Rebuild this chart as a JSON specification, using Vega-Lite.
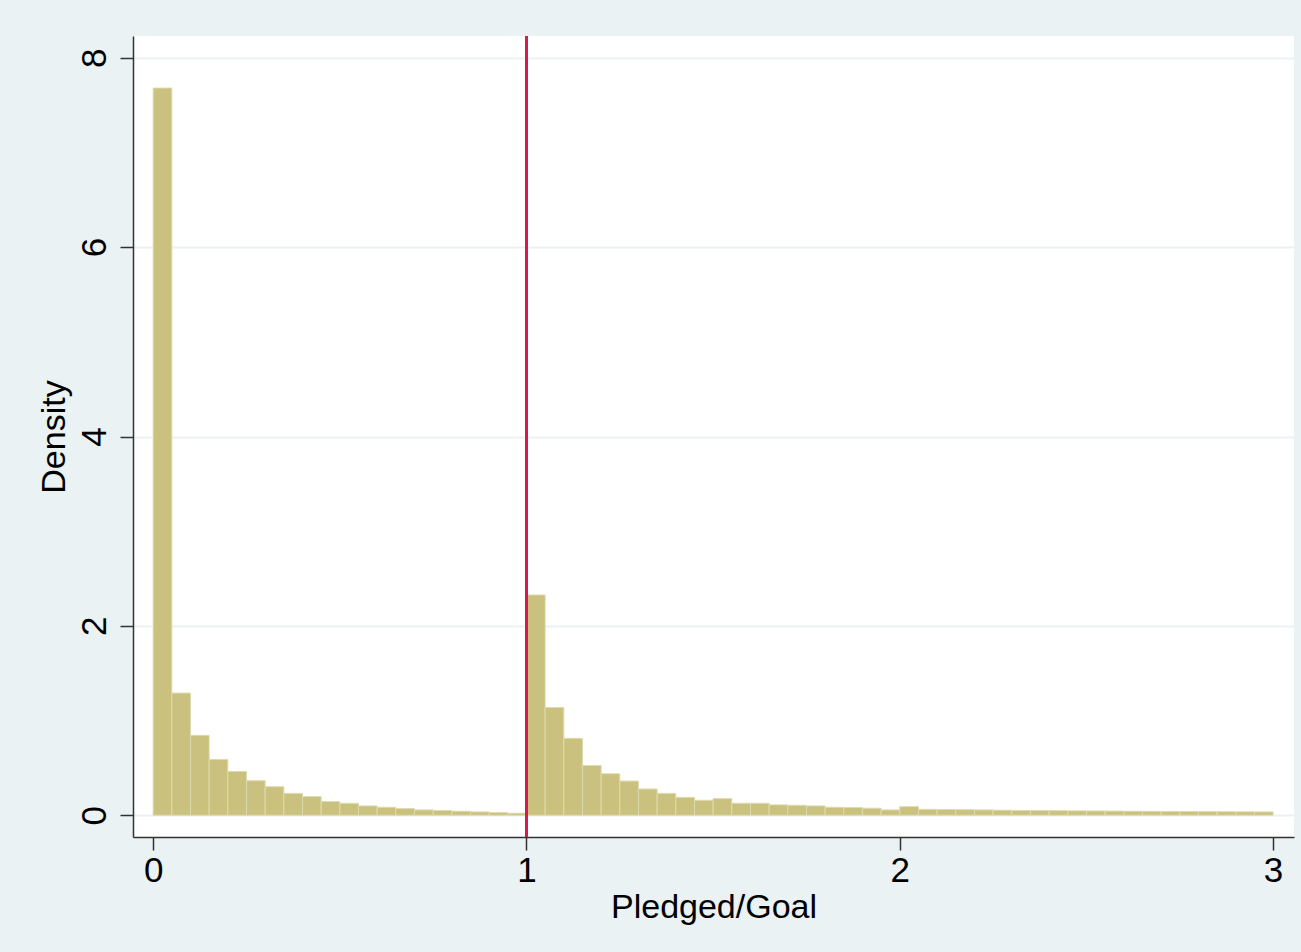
{
  "$schema": "https://vega.github.io/schema/vega-lite/v6.json",
  "autosize": {"type": "none"},
  "width": 1161,
  "height": 801,
  "padding": {"left": 133, "top": 36, "right": 7, "bottom": 115},
  "background": "#EAF2F3",
  "config": {
    "view": {"fill": "white", "stroke": null},
    "font": "Liberation Sans",
    "axis": {
      "labelFont": "Liberation Sans",
      "titleFont": "Liberation Sans",
      "labelColor": "black",
      "titleColor": "black",
      "titleFontWeight": "normal",
      "domainColor": "#333333",
      "domainWidth": 1.5,
      "tickColor": "#333333",
      "tickWidth": 1.5,
      "tickSize": 13
    }
  },
  "data": {
    "values": [
      {"x0": 0.00, "x1": 0.05, "density": 7.68},
      {"x0": 0.05, "x1": 0.10, "density": 1.29},
      {"x0": 0.10, "x1": 0.15, "density": 0.844},
      {"x0": 0.15, "x1": 0.20, "density": 0.589},
      {"x0": 0.20, "x1": 0.25, "density": 0.462},
      {"x0": 0.25, "x1": 0.30, "density": 0.364},
      {"x0": 0.30, "x1": 0.35, "density": 0.301},
      {"x0": 0.35, "x1": 0.40, "density": 0.231},
      {"x0": 0.40, "x1": 0.45, "density": 0.196},
      {"x0": 0.45, "x1": 0.50, "density": 0.144},
      {"x0": 0.50, "x1": 0.55, "density": 0.126},
      {"x0": 0.55, "x1": 0.60, "density": 0.098},
      {"x0": 0.60, "x1": 0.65, "density": 0.084},
      {"x0": 0.65, "x1": 0.70, "density": 0.070},
      {"x0": 0.70, "x1": 0.75, "density": 0.056},
      {"x0": 0.75, "x1": 0.80, "density": 0.049},
      {"x0": 0.80, "x1": 0.85, "density": 0.042},
      {"x0": 0.85, "x1": 0.90, "density": 0.035},
      {"x0": 0.90, "x1": 0.95, "density": 0.028},
      {"x0": 0.95, "x1": 1.00, "density": 0.021},
      {"x0": 1.00, "x1": 1.05, "density": 2.326},
      {"x0": 1.05, "x1": 1.10, "density": 1.138},
      {"x0": 1.10, "x1": 1.15, "density": 0.812},
      {"x0": 1.15, "x1": 1.20, "density": 0.525},
      {"x0": 1.20, "x1": 1.25, "density": 0.438},
      {"x0": 1.25, "x1": 1.30, "density": 0.361},
      {"x0": 1.30, "x1": 1.35, "density": 0.277},
      {"x0": 1.35, "x1": 1.40, "density": 0.231},
      {"x0": 1.40, "x1": 1.45, "density": 0.189},
      {"x0": 1.45, "x1": 1.50, "density": 0.158},
      {"x0": 1.50, "x1": 1.55, "density": 0.175},
      {"x0": 1.55, "x1": 1.60, "density": 0.126},
      {"x0": 1.60, "x1": 1.65, "density": 0.126},
      {"x0": 1.65, "x1": 1.70, "density": 0.109},
      {"x0": 1.70, "x1": 1.75, "density": 0.105},
      {"x0": 1.75, "x1": 1.80, "density": 0.098},
      {"x0": 1.80, "x1": 1.85, "density": 0.084},
      {"x0": 1.85, "x1": 1.90, "density": 0.081},
      {"x0": 1.90, "x1": 1.95, "density": 0.074},
      {"x0": 1.95, "x1": 2.00, "density": 0.056},
      {"x0": 2.00, "x1": 2.05, "density": 0.090},
      {"x0": 2.05, "x1": 2.10, "density": 0.062},
      {"x0": 2.10, "x1": 2.15, "density": 0.060},
      {"x0": 2.15, "x1": 2.20, "density": 0.058},
      {"x0": 2.20, "x1": 2.25, "density": 0.056},
      {"x0": 2.25, "x1": 2.30, "density": 0.053},
      {"x0": 2.30, "x1": 2.35, "density": 0.050},
      {"x0": 2.35, "x1": 2.40, "density": 0.049},
      {"x0": 2.40, "x1": 2.45, "density": 0.048},
      {"x0": 2.45, "x1": 2.50, "density": 0.046},
      {"x0": 2.50, "x1": 2.55, "density": 0.045},
      {"x0": 2.55, "x1": 2.60, "density": 0.044},
      {"x0": 2.60, "x1": 2.65, "density": 0.042},
      {"x0": 2.65, "x1": 2.70, "density": 0.041},
      {"x0": 2.70, "x1": 2.75, "density": 0.040},
      {"x0": 2.75, "x1": 2.80, "density": 0.039},
      {"x0": 2.80, "x1": 2.85, "density": 0.038},
      {"x0": 2.85, "x1": 2.90, "density": 0.037},
      {"x0": 2.90, "x1": 2.95, "density": 0.036},
      {"x0": 2.95, "x1": 3.00, "density": 0.035}
    ]
  },
  "layer": [
    {
      "mark": {"type": "bar", "fill": "#C9C17D", "stroke": "#DEDAB0", "strokeWidth": 1},
      "encoding": {
        "x": {
          "field": "x0",
          "type": "quantitative",
          "scale": {"domain": [-0.054, 3.056], "nice": false, "zero": false},
          "axis": {
            "values": [0, 1, 2, 3],
            "format": "d",
            "title": "Pledged/Goal",
            "grid": false,
            "labelFontSize": 35,
            "titleFontSize": 34,
            "labelPadding": 3,
            "titlePadding": 2
          }
        },
        "x2": {"field": "x1"},
        "y": {
          "field": "density",
          "type": "quantitative",
          "scale": {"domain": [-0.23, 8.23], "nice": false, "zero": false},
          "axis": {
            "values": [0, 2, 4, 6, 8],
            "format": "d",
            "title": "Density",
            "grid": true,
            "gridColor": "#EAF2F3",
            "gridWidth": 2,
            "labelAngle": 270,
            "labelAlign": "center",
            "labelBaseline": "bottom",
            "labelFontSize": 35,
            "titleFontSize": 34,
            "labelPadding": 8,
            "titlePadding": 6
          }
        },
        "y2": {"datum": 0}
      }
    },
    {
      "mark": {"type": "rule", "color": "#D81B4A", "strokeWidth": 2},
      "encoding": {"x": {"datum": 1}}
    }
  ]
}
